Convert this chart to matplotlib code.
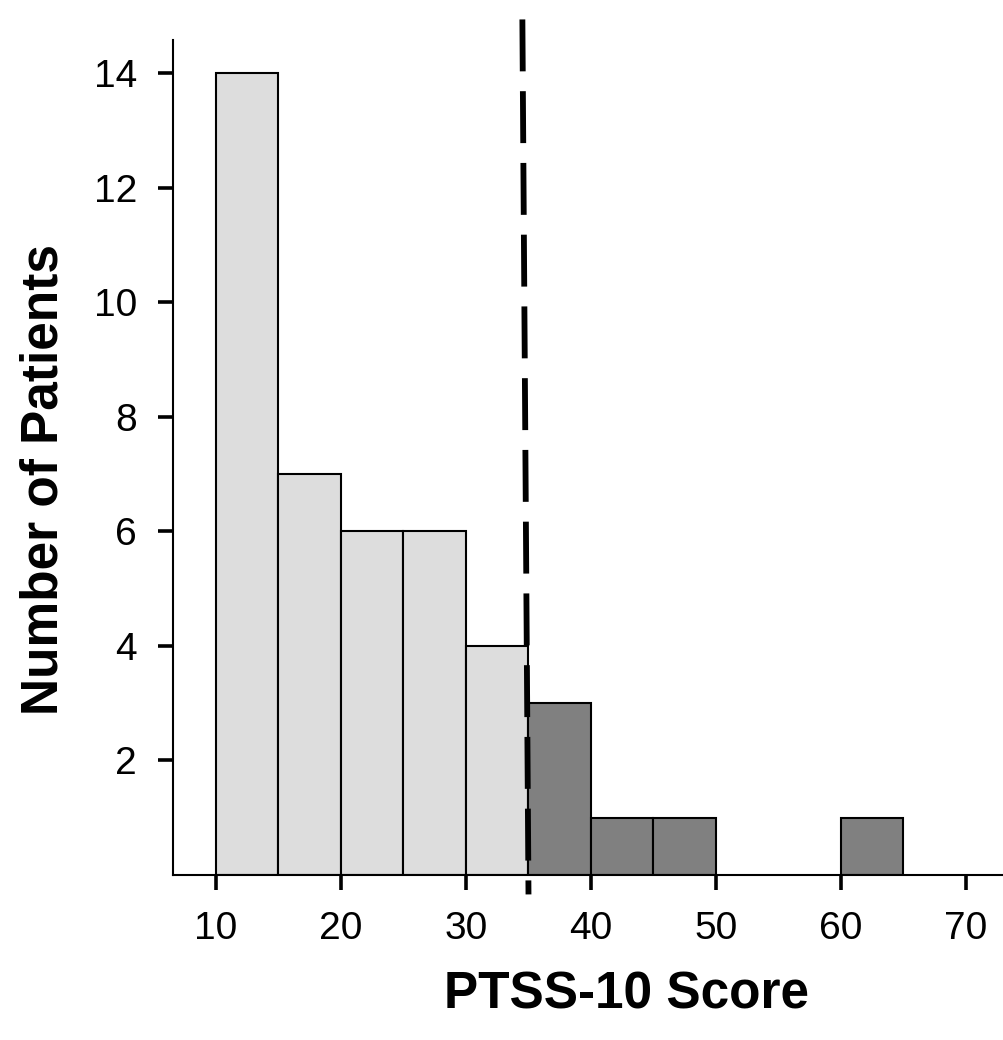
import numpy as np
import matplotlib
matplotlib.use("Agg")
from matplotlib import pyplot as plt

plt.rcParams['font.family'] = ['Liberation Sans', 'DejaVu Sans']

# histogram of PTSS-10 scores, bins of width 5
bin_edges = [10, 15, 20, 25, 30, 35, 40, 45, 50, 55, 60, 65]
counts = [14, 7, 6, 6, 4, 3, 1, 1, 0, 0, 1]
cutoff = 35
light = '#dddddd'
dark = '#808080'

fig = plt.figure(figsize=(10.04, 10.4), dpi=100)
ax = fig.add_axes([0.1723, 0.1587, 0.8277, 0.8029])

lefts = np.array(bin_edges[:-1])
widths = np.diff(bin_edges)
colors = [light if l < cutoff else dark for l in lefts]
for l, w, c, col in zip(lefts, widths, counts, colors):
    if c > 0:
        ax.bar(l, c, width=w, align='edge', color=col, edgecolor='black', linewidth=1.5)

# cutoff line (dashed, reaching past the plot area)
ax.plot([cutoff - 0.5, cutoff], [15.27, -0.34], color='black', linestyle=(9.04, (8.9, 3.4)),
        linewidth=4.2, clip_on=False, zorder=5, dash_capstyle='butt')

ax.set_xlim(6.56, 73.04)
ax.set_ylim(0, 14.58)
ax.set_xticks([10, 20, 30, 40, 50, 60, 70])
ax.set_yticks([2, 4, 6, 8, 10, 12, 14])
ax.tick_params(axis='both', labelsize=28, length=11, width=2.6, direction='out', pad=15)

for s in ['top', 'right']:
    ax.spines[s].set_visible(False)
ax.spines['left'].set_linewidth(1.5)
ax.spines['bottom'].set_linewidth(1.5)

ax.set_xlabel('PTSS-10 Score', fontsize=37, fontweight='bold')
ax.set_ylabel('Number of Patients', fontsize=37, fontweight='bold')
ax.xaxis.set_label_coords(0.546, -0.114)
ax.yaxis.set_label_coords(-0.126, 0.473)

fig.savefig('out.png', dpi=100)
